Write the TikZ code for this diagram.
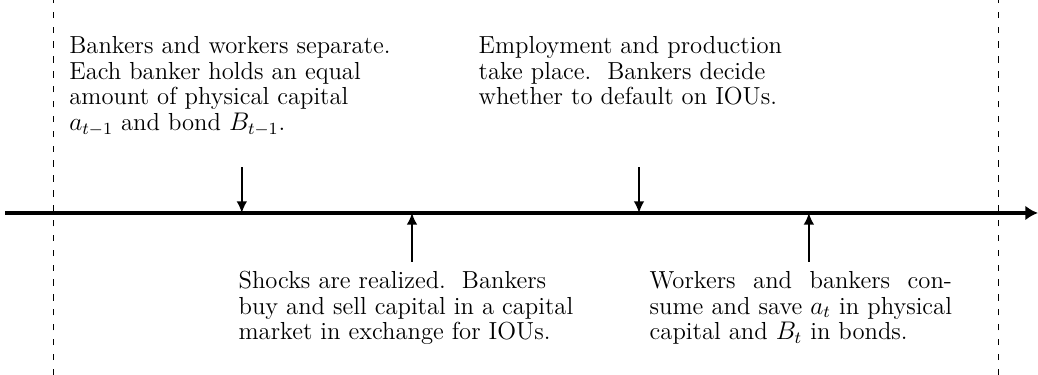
\documentclass[tikz,border=0pt]{standalone}
\usepackage{tikz}
\usetikzlibrary{arrows.meta}
\tikzset{
	eje/.style={line width=1.8pt, -{Latex[length=6pt,width=7pt]}}, % linea de tiempo
	evento/.style={line width=0.8pt, -{Latex[length=5.5pt,width=5pt]}}, % flechas de los eventos
	limite/.style={line width=0.4pt, dash pattern=on 3pt off 4pt}, % limites del periodo
	texto/.style={inner sep=0pt, anchor=north west, align=left,
		font=\fontsize{11.6pt}{12pt}\selectfont} % descripciones
}

\begin{document}
\begin{tikzpicture}
	\useasboundingbox (0,0) rectangle (17.17,6.203);
	% limites del periodo
	\coordinate (l0) at (0.877,0); \coordinate (l1) at (0.877,6.203);
	\coordinate (r0) at (16.51,0); \coordinate (r1) at (16.51,6.203);
	\draw[limite] (l0) -- (l1);
	\draw[limite] (r0) -- (r1);
	% linea de tiempo
	\coordinate (ini) at (0.083,2.68);
	\coordinate (fin) at (17.17,2.68);
	\draw[eje] (ini) -- (fin);
	% puntos sobre el eje y extremos de las flechas
	\coordinate (p1) at (4.00,2.68);  \coordinate (s1) at (4.00,3.44);
	\coordinate (p2) at (6.815,2.68); \coordinate (s2) at (6.815,1.87);
	\coordinate (p3) at (10.57,2.68); \coordinate (s3) at (10.57,3.44);
	\coordinate (p4) at (13.38,2.68); \coordinate (s4) at (13.38,1.87);
	\draw[evento] (s1) -- (p1);
	\draw[evento] (s2) -- (p2);
	\draw[evento] (s3) -- (p3);
	\draw[evento] (s4) -- (p4);
	% descripciones
	\node[texto] (t1) at (1.14,5.60) {Bankers and workers separate.\\ Each banker holds an equal\\ amount of physical capital\\ $a_{t-1}$ and bond $B_{t-1}$.};
	\node[texto] (t2) at (3.94,1.72) {Shocks are realized.\ \ Bankers\\ buy and sell capital in a capital\\ market in exchange for IOUs.};
	\node[texto] (t3) at (7.91,5.60) {Employment and production\\ take place.\ \ Bankers decide\\ whether to default on IOUs.};
	\node[texto, text width=5.0cm, align=justify] (t4) at (10.74,1.72) {Workers and bankers consume and save $a_t$ in physical capital and $B_t$ in bonds.};
\end{tikzpicture}
\end{document}
